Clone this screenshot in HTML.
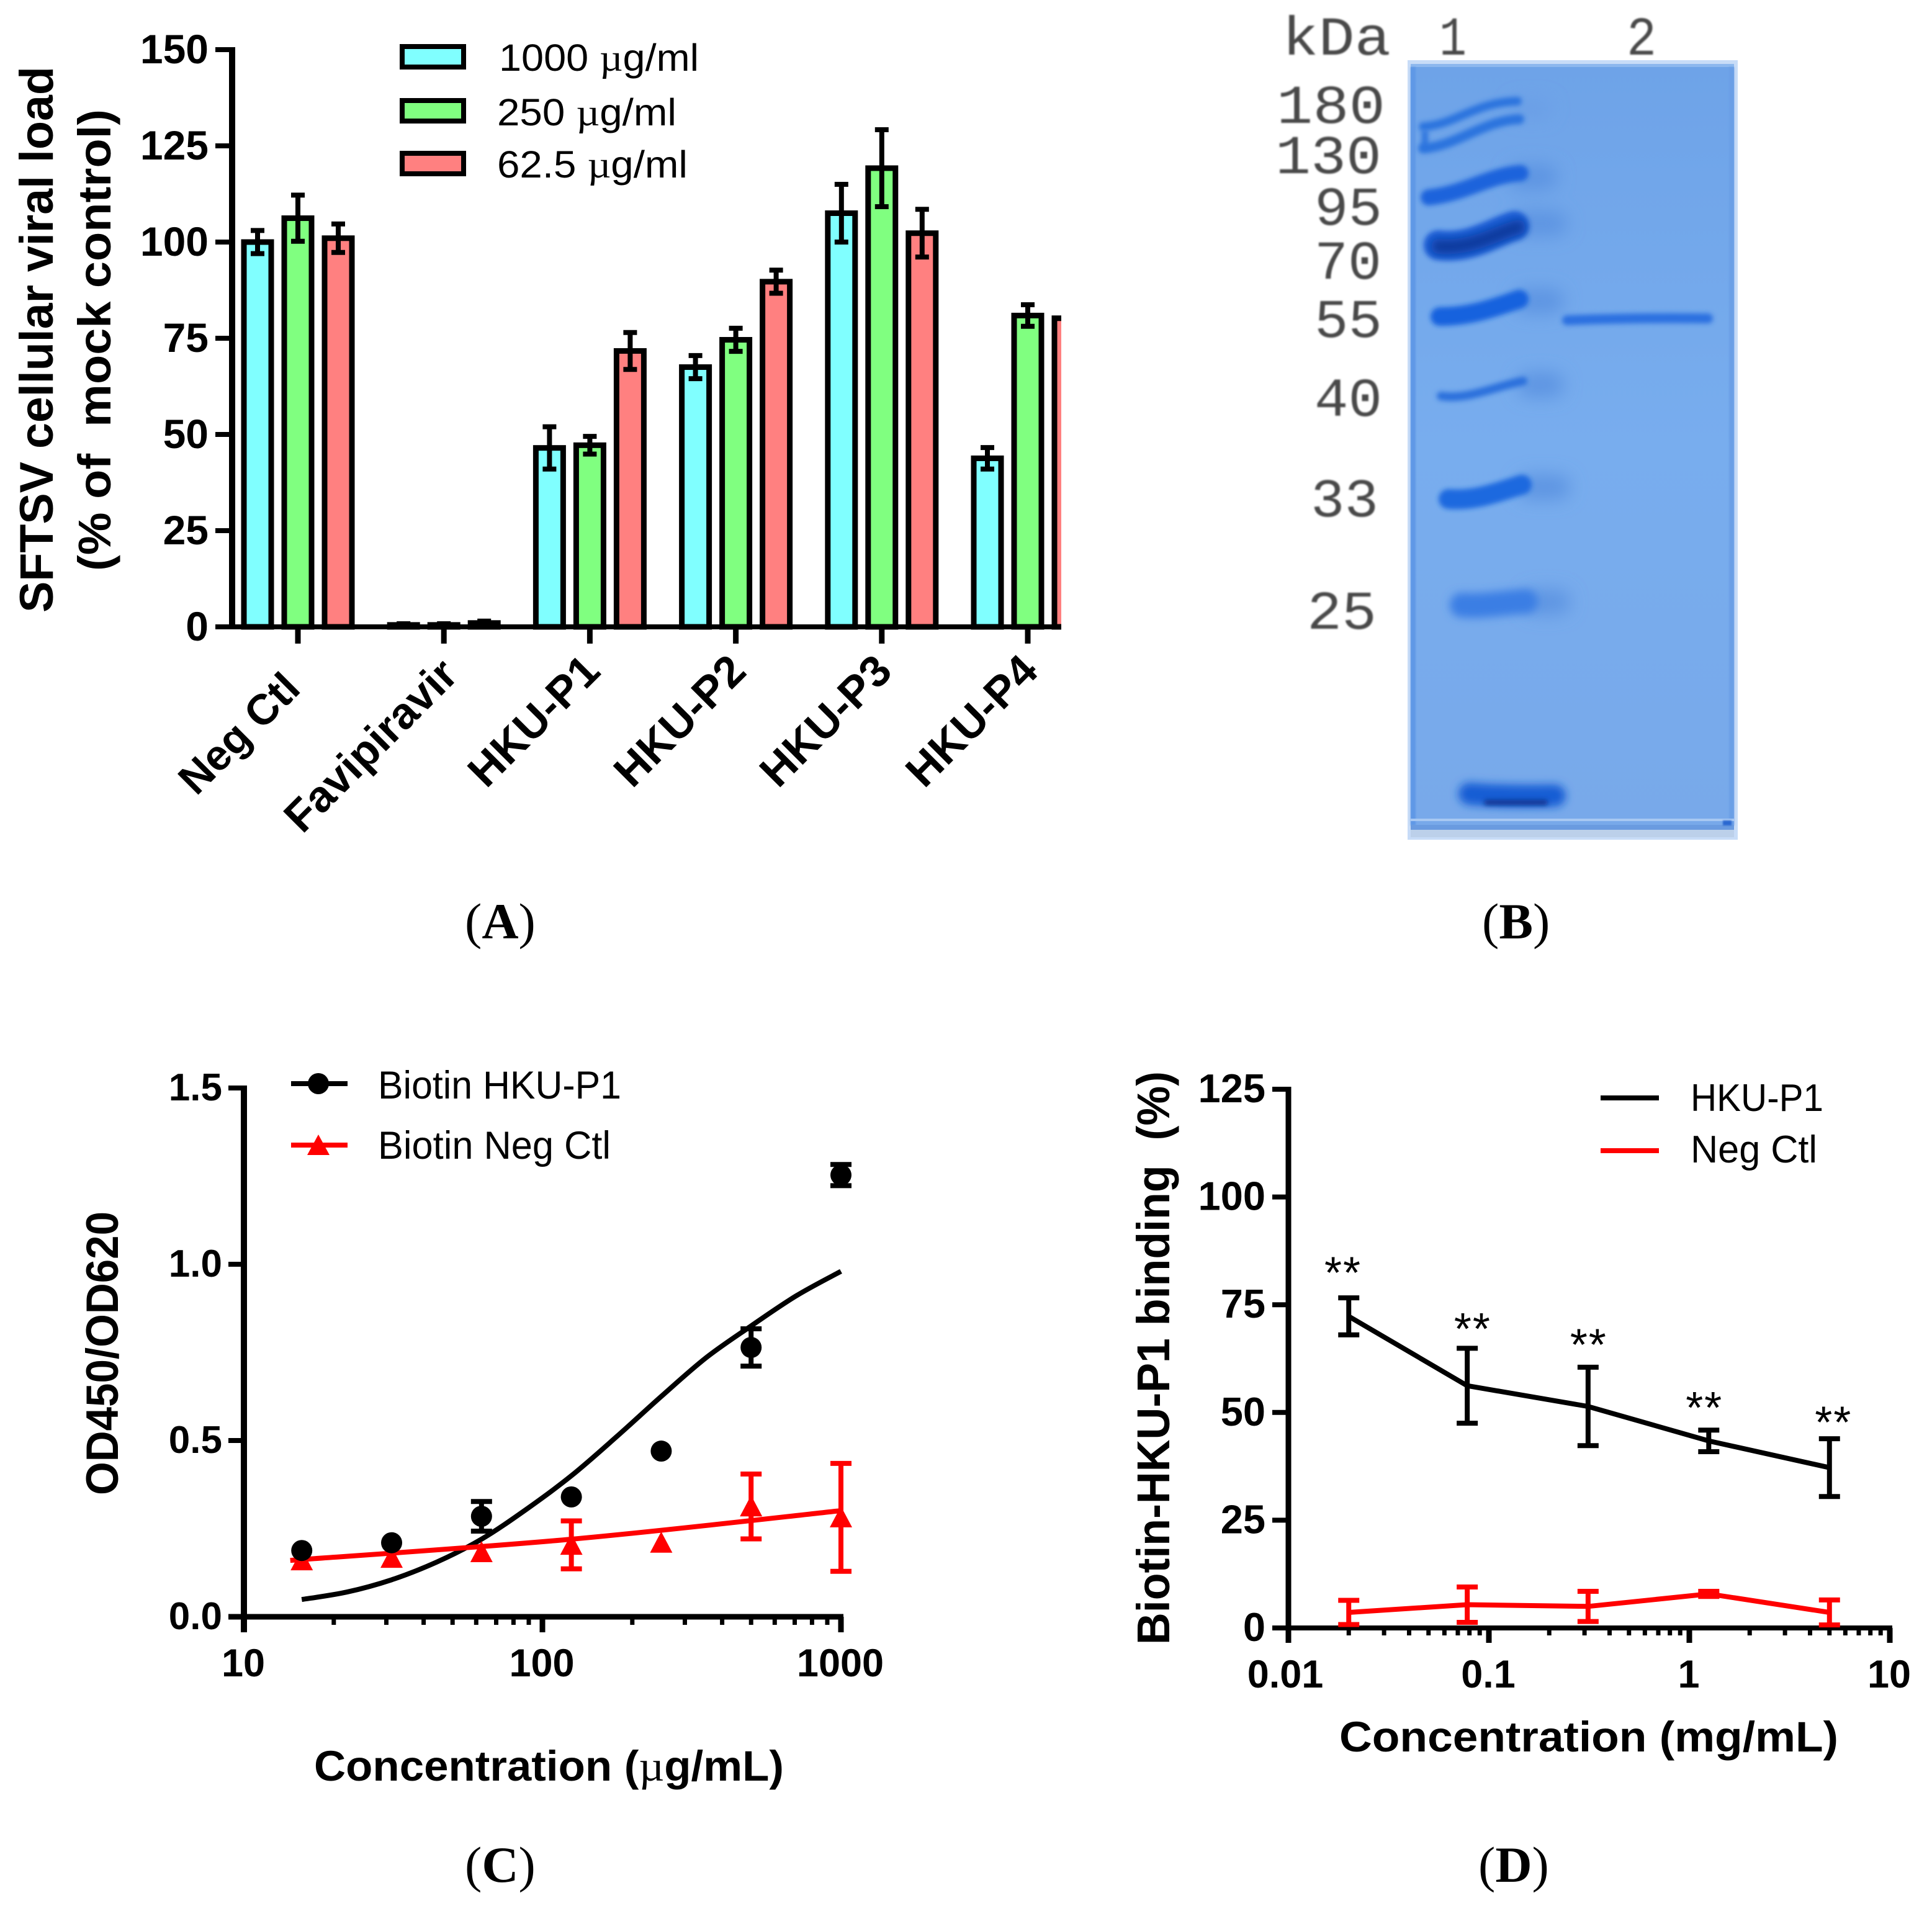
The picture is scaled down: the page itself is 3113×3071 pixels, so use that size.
<!DOCTYPE html>
<html lang="en">
<head>
<meta charset="utf-8">
<title>SFTSV panels A to D</title>
<style>
html,body{margin:0;padding:0;background:#fff;}
svg{display:block;}
text{font-family:"Liberation Sans",sans-serif;fill:#000;}
.bold{font-weight:700;}
.mu{font-family:"Liberation Serif",serif;}
.panel{font-family:"Liberation Serif",serif;font-size:82px;}
.gel{font-family:"Liberation Mono",monospace;font-size:88px;fill:#484848;font-weight:400;}
</style>
</head>
<body>
<svg id="fig" xmlns="http://www.w3.org/2000/svg" width="3113" height="3071" viewBox="0 0 3113 3071">
<defs>
<clipPath id="clipA"><rect x="0" y="0" width="1710" height="1400"/></clipPath>
<filter id="b2" filterUnits="userSpaceOnUse" x="2200" y="0" width="700" height="1400"><feGaussianBlur stdDeviation="4"/></filter>
<filter id="b5" filterUnits="userSpaceOnUse" x="2200" y="0" width="700" height="1400"><feGaussianBlur stdDeviation="7"/></filter>
<filter id="b14" filterUnits="userSpaceOnUse" x="2200" y="0" width="700" height="1400"><feGaussianBlur stdDeviation="14"/></filter>
<filter id="soft" filterUnits="userSpaceOnUse" x="2000" y="0" width="900" height="1400"><feGaussianBlur stdDeviation="1.4"/></filter>
<linearGradient id="gelFill" x1="0" y1="0" x2="0" y2="1">
<stop offset="0" stop-color="#6ea3e8"/><stop offset="0.5" stop-color="#78adee"/><stop offset="1" stop-color="#78a9ea"/>
</linearGradient>
</defs>

<g id="panelA"></g>

<g id="panelB">
  <g filter="url(#soft)">
    <text class="gel" x="2066" y="88" textLength="175" lengthAdjust="spacingAndGlyphs">kDa</text>
    <text class="gel" x="2319" y="88" textLength="44" lengthAdjust="spacingAndGlyphs">1</text>
    <text class="gel" x="2621" y="88" textLength="48" lengthAdjust="spacingAndGlyphs">2</text>
    <text class="gel" x="2057" y="198" textLength="175" lengthAdjust="spacingAndGlyphs">180</text>
    <text class="gel" x="2055" y="279" textLength="171" lengthAdjust="spacingAndGlyphs">130</text>
    <text class="gel" x="2118" y="362" textLength="109" lengthAdjust="spacingAndGlyphs">95</text>
    <text class="gel" x="2118" y="449" textLength="108" lengthAdjust="spacingAndGlyphs">70</text>
    <text class="gel" x="2118" y="543" textLength="109" lengthAdjust="spacingAndGlyphs">55</text>
    <text class="gel" x="2118" y="670" textLength="109" lengthAdjust="spacingAndGlyphs">40</text>
    <text class="gel" x="2112" y="832" textLength="109" lengthAdjust="spacingAndGlyphs">33</text>
    <text class="gel" x="2106" y="1013" textLength="112" lengthAdjust="spacingAndGlyphs">25</text>
  </g>
  <rect x="2268" y="97" width="532" height="1256" fill="#c8dcf7"/>
  <rect x="2273" y="103" width="521" height="6" fill="#8db8ee"/>
  <rect x="2273" y="108" width="521" height="1222" fill="url(#gelFill)"/>
  <rect x="2273" y="108" width="8" height="1222" fill="#5f98e6" filter="url(#soft)"/>
  <rect x="2786" y="108" width="8" height="1222" fill="#6a9fe6" filter="url(#soft)"/>
  <g fill="none" stroke-linecap="round">
    <path d="M2450 285L2490 285M2455 360L2505 360M2460 485L2500 485M2465 620L2500 620M2465 785L2510 785M2475 970L2510 970" stroke="#5d94e2" stroke-width="40" filter="url(#b14)"/>
    <path d="M2450 175L2485 175" stroke="#6a9fe6" stroke-width="30" filter="url(#b14)"/>
  </g>
  <g fill="none" stroke-linecap="round">
    <path d="M2293 204C2345 201 2375 165 2445 163" stroke="#2c73de" stroke-width="14" filter="url(#b2)"/>
    <path d="M2293 239C2345 236 2390 194 2448 192" stroke="#2c73de" stroke-width="16" filter="url(#b2)"/>
    <path d="M2296 214L2296 236" stroke="#2c73de" stroke-width="10" filter="url(#b2)"/>
    <path d="M2302 318C2360 312 2400 282 2450 279" stroke="#1c64dc" stroke-width="26" filter="url(#b2)"/>
    <path d="M2318 395C2370 402 2410 372 2440 364" stroke="#1a5fd6" stroke-width="48" filter="url(#b2)"/>
    <path d="M2318 397C2370 402 2410 376 2446 366" stroke="#0a3a9e" stroke-width="24" filter="url(#b5)"/>
    <path d="M2320 510C2370 510 2410 495 2448 482" stroke="#1662de" stroke-width="30" filter="url(#b2)"/>
    <path d="M2322 638C2365 645 2410 622 2454 614" stroke="#2a70dc" stroke-width="14" filter="url(#b2)"/>
    <path d="M2334 804C2380 808 2420 790 2452 781" stroke="#1f69df" stroke-width="32" filter="url(#b2)"/>
    <path d="M2356 975C2390 978 2430 970 2458 969" stroke="#3b7ee4" stroke-width="40" filter="url(#b5)"/>
    <path d="M2368 1279C2410 1283 2470 1283 2505 1282" stroke="#155dd4" stroke-width="36" filter="url(#b5)"/>
    <path d="M2395 1293L2490 1293" stroke="#0b2f8a" stroke-width="8" filter="url(#b2)"/>
  </g>
  <path d="M2525 516C2600 513 2680 512 2752 513" fill="none" stroke="#2a6fe0" stroke-width="16" stroke-linecap="round" filter="url(#b2)"/>
  <rect x="2273" y="1319" width="521" height="4" fill="#a8c8f2"/>
  <rect x="2273" y="1329" width="521" height="8" fill="#6a9be0"/>
  <rect x="2273" y="1337" width="521" height="12" fill="#bcd0ea"/>
  <rect x="2776" y="1322" width="14" height="8" fill="#2a68d0" filter="url(#soft)"/>
</g>

<g id="panelC"></g>
<g id="panelD"></g>

<g>
  <text class="panel" x="749" y="1512">(<tspan font-weight="700">A</tspan>)</text>
  <text class="panel" x="2388" y="1512">(<tspan font-weight="700">B</tspan>)</text>
  <text class="panel" x="749" y="3032">(<tspan font-weight="700">C</tspan>)</text>
  <text class="panel" x="2382" y="3032">(<tspan font-weight="700">D</tspan>)</text>
</g>
</svg>

<script>
// ---------- Panel A data ----------
const aCategories = ['Neg Ctl', 'Favipiravir', 'HKU-P1', 'HKU-P2', 'HKU-P3', 'HKU-P4'];
const aYTicks = [0, 25, 50, 75, 100, 125, 150];
const aSeriesNames = ['1000 µg/ml', '250 µg/ml', '62.5 µg/ml'];
const aValues1000 = [100, 0.5, 46.5, 67.5, 107.5, 43.8];
const aValues250 = [106.2, 0.5, 47.2, 74.6, 119.2, 80.9];
const aValues625 = [101, 1, 71.7, 89.7, 102.3, 80.2];
const aErrors1000 = [3, 0.3, 5.5, 3, 7.5, 2.8];
const aErrors250 = [6, 0.3, 2.3, 3, 10, 2.8];
const aErrors625 = [3.7, 0.5, 4.8, 3, 6.2, 0];

// ---------- Panel C data ----------
const cConcentrations = [15.625, 31.25, 62.5, 125, 250, 500, 1000];
const cBiotinP1 = [0.188, 0.21, 0.285, 0.34, 0.47, 0.764, 1.253];
const cBiotinP1Err = [0, 0, 0.042, 0, 0, 0.053, 0.03];
const cNegCtl = [0.16, 0.167, 0.183, 0.204, 0.21, 0.313, 0.282];
const cNegCtlErr = [0, 0, 0, 0.068, 0, 0.092, 0.153];
const cFitConc = [15.625, 22.1, 31.25, 44.2, 62.5, 88.4, 125, 176.8, 250, 353.6, 500, 707, 1000];
const cFitP1 = [0.049, 0.07, 0.105, 0.155, 0.22, 0.305, 0.4, 0.51, 0.625, 0.735, 0.825, 0.91, 0.98];
const cFitNegConc = [14.3, 125, 1000];
const cFitNeg = [0.16, 0.22, 0.301];
const cYTicks = ['0.0', '0.5', '1.0', '1.5'];
const cXTicks = [10, 100, 1000];
const cXMinor = [20, 30, 40, 50, 60, 70, 80, 90, 200, 300, 400, 500, 600, 700, 800, 900];

// ---------- Panel D data ----------
const dConcentrations = [0.02, 0.078, 0.3125, 1.25, 5];
const dP1 = [72.3, 56.2, 51.4, 43.4, 37.2];
const dP1Err = [4.3, 8.7, 9.1, 2.5, 6.7];
const dNeg = [3.6, 5.4, 5, 7.9, 3.6];
const dNegErr = [2.8, 4.1, 3.5, 0.6, 2.9];
const dStarConc = [0.0186, 0.0824, 0.3125, 1.18, 5.2];
const dStarHeight = [84, 71, 67.3, 52.7, 49.3];
const dYTicks = [0, 25, 50, 75, 100, 125];
const dXTicks = ['0.01', '0.1', '1', '10'];
const dXMinor = [0.02, 0.03, 0.04, 0.05, 0.06, 0.07, 0.08, 0.09, 0.2, 0.3, 0.4, 0.5, 0.6, 0.7, 0.8, 0.9, 2, 3, 4, 5, 6, 7, 8, 9];

const NS = 'http://www.w3.org/2000/svg';
function mk(parent, tag, attrs, txt) {
  const el = document.createElementNS(NS, tag);
  for (const k in attrs) el.setAttribute(k, attrs[k]);
  if (txt !== undefined) el.textContent = txt;
  parent.appendChild(el);
  return el;
}
function line(parent, x1, y1, x2, y2, color, w) {
  return mk(parent, 'line', {x1, y1, x2, y2, stroke: color, 'stroke-width': w});
}
function smooth(pts) {
  let d = 'M' + pts[0][0].toFixed(1) + ' ' + pts[0][1].toFixed(1);
  for (let i = 0; i < pts.length - 1; i++) {
    const p0 = pts[Math.max(0, i - 1)], p1 = pts[i], p2 = pts[i + 1], p3 = pts[Math.min(pts.length - 1, i + 2)];
    const c1 = [p1[0] + (p2[0] - p0[0]) / 6, p1[1] + (p2[1] - p0[1]) / 6];
    const c2 = [p2[0] - (p3[0] - p1[0]) / 6, p2[1] - (p3[1] - p1[1]) / 6];
    d += 'C' + c1[0].toFixed(1) + ' ' + c1[1].toFixed(1) + ' ' + c2[0].toFixed(1) + ' ' + c2[1].toFixed(1) + ' ' + p2[0].toFixed(1) + ' ' + p2[1].toFixed(1);
  }
  return d;
}
function muText(parent, x, y, size, weight, before, after, len) {
  const t = mk(parent, 'text', {x, y, 'font-size': size, 'font-weight': weight, textLength: len, lengthAdjust: 'spacingAndGlyphs'});
  t.appendChild(document.createTextNode(before));
  const m = mk(t, 'tspan', {'class': 'mu'}, 'µ');
  m.setAttribute('font-weight', '400');
  t.appendChild(document.createTextNode(after));
  return t;
}

// ================= Panel A =================
(function () {
  const root = document.getElementById('panelA');
  const plot = mk(root, 'g', {'clip-path': 'url(#clipA)'});
  
  
  const yA = v => 1010 - v * 6.2;
  const xA = i => 480 + i * 235.2;
  const offsets = [-65, 0, 65];
  const fills = ['#80ffff', '#80ff80', '#ff8080'];
  const seriesVals = [aValues1000, aValues250, aValues625];
  const seriesErrs = [aErrors1000, aErrors250, aErrors625];
  const keys = ['1000', '250', '62-5'];

  seriesVals.forEach((vals, s) => {
    vals.forEach((v, i) => {
      const cx = xA(i) + offsets[s];
      const bar = mk(plot, 'rect', {x: cx - 22, y: yA(v), width: 44, height: yA(0) - yA(v), fill: fills[s], stroke: '#000', 'stroke-width': 9});
      
      
      const e = seriesErrs[s][i];
      if (e > 0) {
        const eb = mk(plot, 'path', {d: 'M' + cx + ' ' + yA(v + e) + 'V' + yA(v - e) + 'M' + (cx - 11) + ' ' + yA(v + e) + 'H' + (cx + 11) + 'M' + (cx - 11) + ' ' + yA(v - e) + 'H' + (cx + 11), fill: 'none', stroke: '#000', 'stroke-width': 8});
        
        
      }
    });
  });

  const axY = line(root, 374, 76, 374, 1014, '#000', 10);
  
  
  const axX = line(root, 347, 1010, 1710, 1010, '#000', 8);
  
  

  aYTicks.forEach(v => {
    const t = line(root, 347, yA(v), 374, yA(v), '#000', 8);
    
    
    const l = mk(root, 'text', {x: 336, y: yA(v) + 22, 'font-size': 66, 'font-weight': 700, 'text-anchor': 'end'}, String(v));
    
    
  });
  aCategories.forEach((c, i) => {
    const t = line(root, xA(i), 1010, xA(i), 1037, '#000', 9);
    
    
    const isFirst = i === 0;
    const isFav = i === 1;
    const px = xA(i) + 7 + (isFirst ? 0 : (isFav ? 19 : 13));
    const py = 1113 + (isFirst ? 0 : (isFav ? -22 : -28));
    const l = mk(root, 'text', {x: px, y: py, 'font-size': isFirst ? 69 : 71, 'font-weight': 700, 'text-anchor': 'end', transform: 'rotate(-45 ' + px + ' ' + py + ')'}, c);
    
    
  });

  const t1 = mk(root, 'text', {x: 0, y: 0, 'font-size': 76, 'font-weight': 700, textLength: 880, lengthAdjust: 'spacingAndGlyphs', transform: 'translate(85 987) rotate(-90)'}, 'SFTSV cellular viral load');
  
  
  const t2 = mk(root, 'text', {x: 0, y: 0, 'font-size': 74, 'font-weight': 700, textLength: 744, lengthAdjust: 'spacingAndGlyphs', transform: 'translate(178 920) rotate(-90)'}, '(% of\u00a0\u00a0mock control)');
  
  

  const legY = [75, 162, 247];
  const legTextY = [114, 202, 286];
  const legTextX = [804, 801, 801];
  const legLens = [322, 289, 307];
  aSeriesNames.forEach((n, i) => {
    const sw = mk(root, 'rect', {x: 648, y: legY[i], width: 99, height: 33, fill: fills[i], stroke: '#000', 'stroke-width': 8});
    
    
    const parts = n.split('µ');
    const tx = muText(root, legTextX[i], legTextY[i], 61, 400, parts[0], parts[1], legLens[i]);
    
    
  });
})();

// ================= Panel C =================
(function () {
  const root = document.getElementById('panelC');
  const xC = c => 393 + 481 * (Math.log10(c) - 1);
  const yC = v => 2605 - 568 * v;
  const RED = '#ff0000';

  const fitB = mk(root, 'path', {d: smooth(cFitConc.map((c, i) => [xC(c), yC(cFitP1[i])])), fill: 'none', stroke: '#000', 'stroke-width': 8});
  
  
  const fitR = mk(root, 'path', {d: smooth(cFitNegConc.map((c, i) => [xC(c), yC(cFitNeg[i])])), fill: 'none', stroke: RED, 'stroke-width': 8});
  
  

  function errBar(x, v, e, color, name) {
    const el = mk(root, 'path', {d: 'M' + x + ' ' + yC(v + e) + 'V' + yC(v - e) + 'M' + (x - 17) + ' ' + yC(v + e) + 'H' + (x + 17) + 'M' + (x - 17) + ' ' + yC(v - e) + 'H' + (x + 17), fill: 'none', stroke: color, 'stroke-width': 8});
    
    
  }
  cConcentrations.forEach((c, i) => {
    const x = xC(c);
    if (cNegCtlErr[i] > 0) errBar(x, cNegCtl[i], cNegCtlErr[i], RED, 'error-bar-neg-ctl');
    const y = yC(cNegCtl[i]);
    const tri = mk(root, 'polygon', {points: (x - 18) + ',' + (y + 16) + ' ' + (x + 18) + ',' + (y + 16) + ' ' + x + ',' + (y - 18), fill: RED});
    
    
  });
  cConcentrations.forEach((c, i) => {
    const x = xC(c);
    if (cBiotinP1Err[i] > 0) errBar(x, cBiotinP1[i], cBiotinP1Err[i], '#000', 'error-bar-biotin-hku-p1');
    const dot = mk(root, 'circle', {cx: x, cy: yC(cBiotinP1[i]), r: 17, fill: '#000'});
    
    
  });

  const axY = line(root, 393, 1749, 393, 2630, '#000', 10);
  
  
  const axX = line(root, 368, 2605, 1359, 2605, '#000', 9);
  
  

  cYTicks.forEach(s => {
    const y = yC(parseFloat(s));
    const t = line(root, 368, y, 393, y, '#000', 8);
    
    
    const l = mk(root, 'text', {x: 358, y: y + 20, 'font-size': 62, 'font-weight': 700, 'text-anchor': 'end'}, s);
    
    
  });
  cXTicks.forEach(c => {
    const x = xC(c);
    const t = line(root, x, 2605, x, 2630, '#000', 9);
    
    
    const l = mk(root, 'text', {x: x - 1, y: 2701, 'font-size': 63, 'font-weight': 700, 'text-anchor': 'middle'}, String(c));
    
    
  });
  cXMinor.forEach(c => {
    const t = line(root, xC(c), 2605, xC(c), 2618, '#000', 7);
    
    
  });

  const yt = mk(root, 'text', {x: 0, y: 0, 'font-size': 73, 'font-weight': 700, textLength: 457, lengthAdjust: 'spacingAndGlyphs', transform: 'translate(190 2409) rotate(-90)'}, 'OD450/OD620');
  
  
  const xt = muText(root, 506, 2869, 69, 700, 'Concentration (', 'g/mL)', 757);
  
  

  const l1 = line(root, 469, 1746, 560, 1746, '#000', 8);
  
  
  const l1m = mk(root, 'circle', {cx: 513, cy: 1746, r: 17, fill: '#000'});
  
  
  const l1t = mk(root, 'text', {x: 609, y: 1770, 'font-size': 63, textLength: 392, lengthAdjust: 'spacingAndGlyphs'}, 'Biotin HKU-P1');
  
  
  const l2 = line(root, 469, 1845, 560, 1845, RED, 8);
  
  
  const l2m = mk(root, 'polygon', {points: '495,1861 531,1861 513,1828', fill: RED});
  
  
  const l2t = mk(root, 'text', {x: 609, y: 1867, 'font-size': 63, textLength: 375, lengthAdjust: 'spacingAndGlyphs'}, 'Biotin Neg Ctl');
  
  
})();

// ================= Panel D =================
(function () {
  const root = document.getElementById('panelD');
  const xD = c => 2076 + 323 * (Math.log10(c) + 2);
  const yD = v => 2623 - 6.944 * v;
  const RED = '#ff0000';

  const axY = line(root, 2076, 1751, 2076, 2647, '#000', 9);
  
  
  const axX = line(root, 2050, 2623, 3049, 2623, '#000', 8);
  
  
  dYTicks.forEach(v => {
    const t = line(root, 2050, yD(v), 2076, yD(v), '#000', 8);
    
    
    const l = mk(root, 'text', {x: 2039, y: yD(v) + 21, 'font-size': 65, 'font-weight': 700, 'text-anchor': 'end'}, String(v));
    
    
  });
  dXTicks.forEach((s, i) => {
    const x = xD(parseFloat(s));
    const t = line(root, x, 2623, x, 2647, '#000', 9);
    
    
    const l = mk(root, 'text', {x: x - (i === 0 ? 5 : 1), y: 2719, 'font-size': 63, 'font-weight': 700, 'text-anchor': 'middle'}, s);
    
    
  });
  dXMinor.forEach(c => {
    const t = line(root, xD(c), 2623, xD(c), 2635, '#000', 7);
    
    
  });

  function series(vals, errs, color, key) {
    const p = mk(root, 'path', {d: 'M' + vals.map((v, i) => xD(dConcentrations[i]).toFixed(1) + ' ' + yD(v).toFixed(1)).join('L'), fill: 'none', stroke: color, 'stroke-width': 8});
    
    
    vals.forEach((v, i) => {
      const x = xD(dConcentrations[i]);
      const e = errs[i];
      const eb = mk(root, 'path', {d: 'M' + x + ' ' + yD(v + e) + 'V' + yD(v - e) + 'M' + (x - 17) + ' ' + yD(v + e) + 'H' + (x + 17) + 'M' + (x - 17) + ' ' + yD(v - e) + 'H' + (x + 17), fill: 'none', stroke: color, 'stroke-width': 8});
      
      
    });
  }
  series(dP1, dP1Err, '#000', 'hku-p1');
  series(dNeg, dNegErr, RED, 'neg-ctl');

  dStarConc.forEach((c, i) => {
    const s = mk(root, 'text', {x: xD(c), y: yD(dStarHeight[i]) + 36, 'font-size': 72, 'text-anchor': 'middle', textLength: 58, lengthAdjust: 'spacing'}, '**');
    
    
  });

  const yt = mk(root, 'text', {x: 0, y: 0, 'font-size': 74, 'font-weight': 700, textLength: 924, lengthAdjust: 'spacingAndGlyphs', transform: 'translate(1884 2650) rotate(-90)'}, 'Biotin-HKU-P1 binding\u00a0\u00a0(%)');
  
  
  const xt = mk(root, 'text', {x: 2158, y: 2822, 'font-size': 69, 'font-weight': 700, textLength: 804, lengthAdjust: 'spacingAndGlyphs'}, 'Concentration (mg/mL)');
  
  

  const l1 = line(root, 2579, 1769, 2673, 1769, '#000', 8);
  
  
  const l1t = mk(root, 'text', {x: 2724, y: 1790, 'font-size': 62, textLength: 214, lengthAdjust: 'spacingAndGlyphs'}, 'HKU-P1');
  
  
  const l2 = line(root, 2579, 1854, 2673, 1854, RED, 8);
  
  
  const l2t = mk(root, 'text', {x: 2724, y: 1873, 'font-size': 62, textLength: 204, lengthAdjust: 'spacingAndGlyphs'}, 'Neg Ctl');
  
  
})();
</script>
</body>
</html>
